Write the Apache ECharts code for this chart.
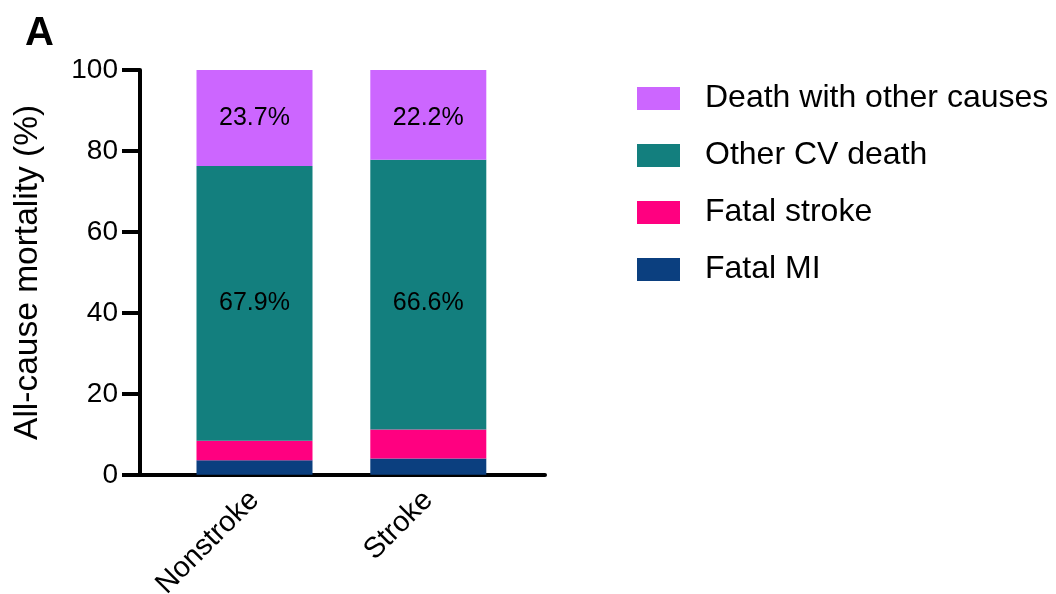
<!DOCTYPE html>
<html>
<head>
<meta charset="utf-8">
<script src="https://cdn.jsdelivr.net/npm/echarts@6/dist/echarts.min.js"></script>
<style>
  html, body { margin: 0; padding: 0; background: #fff; }
  #chart { width: 1056px; height: 594px; }
</style>
</head>
<body>
<div id="chart"></div>
<script>
// Causes of death (% of all-cause mortality) by group
const categories = ['Nonstroke', 'Stroke'];
const fatalMI = [3.6, 4.0];
const fatalStroke = [4.8, 7.2];
const otherCVDeath = [67.9, 66.6];
const otherCauses = [23.7, 22.2];
const yTicks = { min: 0, max: 100, interval: 20 };

const FONT = "'Liberation Sans', Arial, sans-serif";
const COLORS = {
  mi: '#0B3F7F',
  stroke: '#FF0080',
  cv: '#137F7E',
  other: '#CC66FF'
};

const chart = echarts.init(document.getElementById('chart'), null, { renderer: 'canvas' });

const pctLabel = {
  show: true,
  position: 'inside',
  color: '#000',
  fontFamily: FONT,
  fontSize: 25,
  formatter: p => p.value.toFixed(1) + '%'
};

function barSeries(name, data, color, label) {
  return {
    name: name,
    type: 'bar',
    stack: 'total',
    xAxisIndex: 0,
    yAxisIndex: 0,
    barWidth: 116,
    data: data,
    itemStyle: { color: color },
    label: label || { show: false },
    emphasis: { disabled: true }
  };
}

const stackOrder = [fatalMI, fatalStroke, otherCVDeath, otherCauses];

const option = {
  backgroundColor: '#fff',
  animation: false,
  title: {
    text: 'A',
    left: 20,
    top: 9,
    textStyle: { fontFamily: FONT, fontSize: 40, fontWeight: 'bold', color: '#000' }
  },
  legend: {
    orient: 'vertical',
    left: 637,
    top: 82.5,
    padding: 0,
    itemWidth: 43,
    itemHeight: 23,
    itemGap: 25,
    icon: 'rect',
    data: ['Death with other causes', 'Other CV death', 'Fatal stroke', 'Fatal MI'],
    textStyle: { fontFamily: FONT, fontSize: 32, color: '#000', padding: [0, 0, 0, 20] }
  },
  grid: [
    // bars
    { left: 167.6, right: 1056 - 515.2, top: 70, bottom: 119.2, containLabel: false, outerBoundsMode: 'none' },
    // axes frame
    { left: 140, right: 1056 - 545, top: 70, bottom: 119.2, containLabel: false, outerBoundsMode: 'none' }
  ],
  xAxis: [
    {
      gridIndex: 0,
      type: 'category',
      data: categories,
      axisLine: { show: false },
      axisTick: { show: false },
      axisLabel: {
        rotate: 45,
        margin: 21,
        fontFamily: FONT,
        fontSize: 29,
        color: '#000'
      }
    },
    {
      gridIndex: 1,
      type: 'value',
      min: 0,
      max: 1,
      axisLine: { show: true, lineStyle: { color: '#000', width: 4 } },
      axisTick: { show: false },
      axisLabel: { show: false },
      splitLine: { show: false }
    }
  ],
  yAxis: [
    {
      gridIndex: 0,
      type: 'value',
      min: yTicks.min,
      max: yTicks.max,
      interval: yTicks.interval,
      show: false,
      splitLine: { show: false }
    },
    {
      gridIndex: 1,
      type: 'value',
      min: yTicks.min,
      max: yTicks.max,
      interval: yTicks.interval,
      name: 'All-cause mortality (%)',
      nameLocation: 'middle',
      nameGap: 95,
      nameTextStyle: { fontFamily: FONT, fontSize: 33.5, color: '#000' },
      axisLine: { show: true, lineStyle: { color: '#000', width: 4 } },
      axisTick: { show: true, length: 18, lineStyle: { color: '#000', width: 4 } },
      axisLabel: { margin: 22, fontFamily: FONT, fontSize: 28, color: '#000' },
      splitLine: { show: false }
    }
  ],
  series: [
    barSeries('Fatal MI', fatalMI, COLORS.mi),
    barSeries('Fatal stroke', fatalStroke, COLORS.stroke),
    barSeries('Other CV death', otherCVDeath, COLORS.cv, pctLabel),
    barSeries('Death with other causes', otherCauses, COLORS.other, pctLabel)
  ]
};

chart.setOption(option);

// Percentage labels of one segment type sit on a common row,
// aligned with the segment centre of the first group.
function segmentCenter(seriesIdx, catIdx) {
  let base = 0;
  for (let k = 0; k < seriesIdx; k++) base += stackOrder[k][catIdx];
  return base + stackOrder[seriesIdx][catIdx] / 2;
}
const labelled = [2, 3];
const updates = option.series.map(() => ({}));
labelled.forEach(si => {
  const refY = chart.convertToPixel({ xAxisIndex: 0, yAxisIndex: 0 }, [0, segmentCenter(si, 0)])[1];
  updates[si] = {
    data: stackOrder[si].map((v, ci) => {
      const ownY = chart.convertToPixel({ xAxisIndex: 0, yAxisIndex: 0 }, [ci, segmentCenter(si, ci)])[1];
      return { value: v, label: { offset: [0, refY - ownY] } };
    })
  };
});
chart.setOption({ series: updates });
</script>
</body>
</html>
